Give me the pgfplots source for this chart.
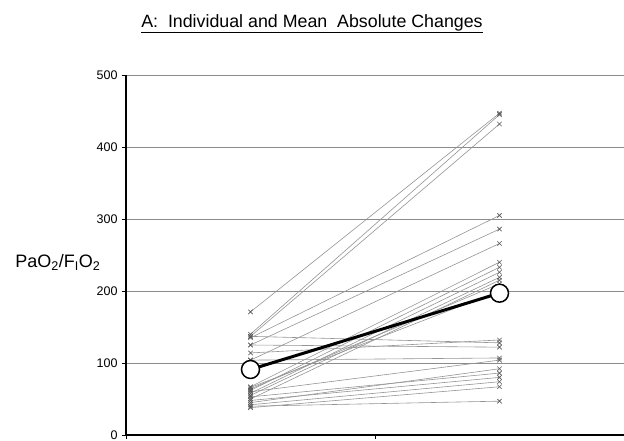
\documentclass[border=0pt]{standalone}
\usepackage{pgfplots}
\pgfplotsset{compat=1.18}
\usepackage{fontspec}
\setmainfont{Liberation Sans}
\definecolor{indiv}{gray}{0.58}
\definecolor{markc}{gray}{0.35}
\definecolor{gridc}{gray}{0.55}
\tikzset{indivline/.style={draw=indiv, solid, line width=0.6pt, mark=x, mark size=3.1pt, mark options={solid, draw=markc, line width=0.6pt}}}
\begin{document}
\begin{tikzpicture}[x=1pt,y=1pt]
\begin{axis}[
  at={(126pt,5pt)}, anchor=south west,
  scale only axis, width=498pt, height=360pt,
  xmin=0, xmax=2, ymin=0, ymax=500,
  axis x line=bottom, axis y line=left,
  axis line style={-, black},
  y axis line style={line width=1.6pt},
  x axis line style={line width=1.2pt},
  xtick={0,1,2}, xticklabels={}, 
  ytick={0,100,200,300,400,500},
  tick align=outside, major tick length=4pt,
  tick style={black, line width=0.8pt},
  ymajorgrids, grid style={gridc, line width=0.8pt},
  yticklabel style={font=\fontsize{12.5}{14}\selectfont, xshift=-1pt},
  /pgf/number format/assume math mode=true,
  ylabel={PaO\textsubscript{2}/F\textsubscript{I}O\textsubscript{2}},
  ylabel style={rotate=-90, at={(axis description cs:-0.137,0.48)}, anchor=center, font=\fontsize{18}{20}\selectfont},
]
\addplot[indivline] coordinates {(0.5,171) (1.5,447)};
\addplot[indivline] coordinates {(0.5,140) (1.5,445)};
\addplot[indivline] coordinates {(0.5,137) (1.5,432)};
\addplot[indivline] coordinates {(0.5,135) (1.5,305)};
\addplot[indivline] coordinates {(0.5,125) (1.5,286)};
\addplot[indivline] coordinates {(0.5,114) (1.5,132)};
\addplot[indivline] coordinates {(0.5,104) (1.5,266)};
\addplot[indivline] coordinates {(0.5,67) (1.5,240)};
\addplot[indivline] coordinates {(0.5,62) (1.5,233)};
\addplot[indivline] coordinates {(0.5,58) (1.5,226)};
\addplot[indivline] coordinates {(0.5,55) (1.5,219)};
\addplot[indivline] coordinates {(0.5,50) (1.5,215)};
\addplot[indivline] coordinates {(0.5,64) (1.5,210)};
\addplot[indivline] coordinates {(0.5,137) (1.5,128)};
\addplot[indivline] coordinates {(0.5,125) (1.5,122)};
\addplot[indivline] coordinates {(0.5,104) (1.5,107)};
\addplot[indivline] coordinates {(0.5,60) (1.5,104)};
\addplot[indivline] coordinates {(0.5,45) (1.5,92)};
\addplot[indivline] coordinates {(0.5,53) (1.5,86)};
\addplot[indivline] coordinates {(0.5,48) (1.5,80)};
\addplot[indivline] coordinates {(0.5,42) (1.5,74)};
\addplot[indivline] coordinates {(0.5,38) (1.5,67)};
\addplot[indivline] coordinates {(0.5,40) (1.5,47)};
\addplot[indivline] coordinates {(0.5,66) (1.5,200)};
% mean
\addplot[black, solid, line width=3pt, mark=*, mark size=9pt, mark options={fill=white, draw=black, line width=1.5pt}] coordinates {(0.5,91) (1.5,197)};
\end{axis}
\node[font=\fontsize{17.8}{20}\selectfont] at (312pt,416pt) {\underline{A:\ \ Individual and Mean\ \ Absolute Changes}};
\pgfresetboundingbox
\path[use as bounding box] (0pt,0pt) rectangle (624pt,440pt);
\end{tikzpicture}
\end{document}
